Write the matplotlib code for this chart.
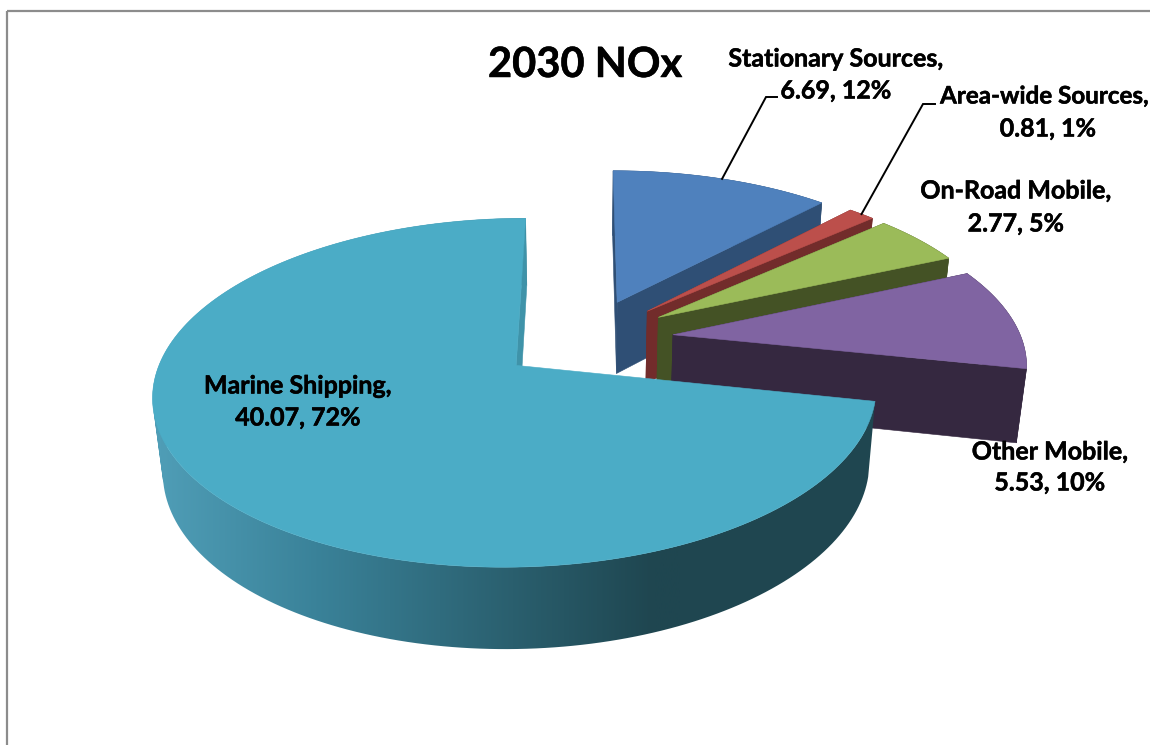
import numpy as np
import matplotlib
matplotlib.use("Agg")
import matplotlib.pyplot as plt
import matplotlib.patheffects as pe
from matplotlib.patches import Polygon, Rectangle, PathPatch
from matplotlib.path import Path
from matplotlib.colors import LinearSegmentedColormap

# Emissions by source category, in pie order (clockwise from 12 o'clock)
categories = ["Stationary Sources", "Area-wide Sources", "On-Road Mobile",
              "Other Mobile", "Marine Shipping"]
values = [6.69, 0.81, 2.77, 5.53, 40.07]
top_colors = ["#4F81BD", "#BC4F4B", "#9BBB59", "#8064A2", "#4BACC6"]
side_colors = ["#2F4F75", "#722C2B", "#445225", "#352840", "#1F4650"]
title = "2030 NOx"

# Label anchors in canvas pixels (centre x of each line, first-line y, second-line y)
label_pos = [(836, 836, 59, 91), (1044, 1048, 96, 129), (1016, 1016, 191, 224),
             (1050, 1050, 452, 483), (298, 298, 386, 418)]
label_sizes = [18, 17.4, 18, 18, 18]

# Projection of the tilted pie onto the canvas
CX, CY = 586.0, 339.0
RX, RY = 348.5, 162.0
PERSP, DEPTH_W, DEPTH_Y = 0.153, 0.023, 74.5
EXPLODE = 0.252


def project(X, Y, Z=0.0):
    w = 1 - PERSP * Y + DEPTH_W * Z
    return CX + RX * X / w, CY + (RY * Y + DEPTH_Y * Z) / w


def slice_xy(theta0, theta1, n=200):
    t = np.linspace(theta0, theta1, n)
    mid = 0.5 * (theta0 + theta1)
    ox, oy = EXPLODE * np.sin(mid), -EXPLODE * np.cos(mid)
    return ox, oy, ox + np.sin(t), oy - np.cos(t)


def strip_path(tx, ty, bx, by):
    """Rim strip as consistently wound quads, so folds at the silhouette stay filled."""
    verts, codes = [], []
    for j in range(len(tx) - 1):
        q = np.array([(tx[j], ty[j]), (tx[j + 1], ty[j + 1]),
                      (bx[j + 1], by[j + 1]), (bx[j], by[j])])
        x, y = q[:, 0], q[:, 1]
        area = np.sum(x * np.roll(y, -1) - np.roll(x, -1) * y)
        if area < 0:
            q = q[::-1]
        verts.extend(list(q) + [q[0]])
        codes.extend([Path.MOVETO, Path.LINETO, Path.LINETO, Path.LINETO, Path.CLOSEPOLY])
    return Path(np.array(verts), codes)


fig = plt.figure(figsize=(11.5, 7.45), dpi=100)
ax = fig.add_axes([0, 0, 1, 1])
plt.rcParams["font.family"] = ["Lato", "DejaVu Sans"]

ax.add_patch(Rectangle((7, 11), 1300, 900, fill=False, ec="#8C8C8C", lw=1.6))

shade = LinearSegmentedColormap.from_list(
    "wall", [(0.0, "#4F9DB6"), (0.3, "#3A8299"), (0.68, "#2A5F6E"),
             (0.95, "#1F4650"), (1.0, "#1F4650")])

total = sum(values)
edges = np.concatenate([[0], np.cumsum(values)]) / total * 2 * np.pi


def add_poly(xy, color, z):
    p = Polygon(xy, closed=True, fc=color, ec=color, lw=0.4, zorder=z)
    ax.add_patch(p)
    return p


for i, (val, ctop, cside) in enumerate(zip(values, top_colors, side_colors)):
    ox, oy, X, Y = slice_xy(edges[i], edges[i + 1])
    z = 2 + i
    tx, ty = project(X, Y)
    bx, by = project(X, Y, 1)
    ax0, ay0 = project(ox, oy)
    bx0, by0 = project(ox, oy, 1)

    if i == len(values) - 1:
        # The large slice carries a horizontal shade along its rim
        mask = PathPatch(strip_path(tx, ty, bx, by), fc="none", ec="none", zorder=z)
        ax.add_patch(mask)
        ramp = np.linspace(0, 1, 256)[None, :]
        img = ax.imshow(ramp, cmap=shade, extent=(160, 680, 700, 200),
                        aspect="auto", zorder=z + 0.1, vmin=0, vmax=1)
        edge_fill = ax.imshow(np.ones((1, 1)), cmap=shade, vmin=0, vmax=1,
                              extent=(680, 900, 700, 200), aspect="auto",
                              zorder=z + 0.1)
        left_fill = ax.imshow(np.zeros((1, 1)), cmap=shade, vmin=0, vmax=1,
                              extent=(130, 160, 700, 200), aspect="auto",
                              zorder=z + 0.1)
        for artist in (img, edge_fill, left_fill):
            artist.set_clip_path(mask)
        add_poly([(ax0, ay0), (tx[-1], ty[-1]), (bx[-1], by[-1]), (bx0, by0)],
                 "#3F93A9", z + 0.2)
    else:
        add_poly(np.r_[np.c_[tx, ty], np.c_[bx, by][::-1]], cside, z)
        # Radial cut faces
        add_poly([(ax0, ay0), (tx[0], ty[0]), (bx[0], by[0]), (bx0, by0)], cside, z)
        add_poly([(ax0, ay0), (tx[-1], ty[-1]), (bx[-1], by[-1]), (bx0, by0)], cside, z)
    # Top face
    add_poly(np.r_[[(ax0, ay0)], np.c_[tx, ty]], ctop, z + 0.5)

# Leader lines for the two labels that sit away from their slices
leaders = [(0, (766, 97), (777, 97)), (1, (923, 104), (935, 104))]
for idx, knee, end in leaders:
    mid = 0.5 * (edges[idx] + edges[idx + 1])
    sx, sy = project(EXPLODE * np.sin(mid) + np.sin(mid),
                     -EXPLODE * np.cos(mid) - np.cos(mid))
    ax.plot([sx, knee[0], end[0]], [sy, knee[1], end[1]], color="black",
            lw=1.4, zorder=10, solid_joinstyle="miter")

heavy = [pe.withStroke(linewidth=0.35, foreground="black")]
for name, val, (x1, x2, y1, y2), size in zip(categories, values, label_pos, label_sizes):
    pct = round(val / total * 100)
    ax.text(x1, y1, f"{name},", ha="center", va="center", fontsize=size,
            fontweight="bold", color="black", zorder=12, path_effects=heavy)
    ax.text(x2, y2, f"{val:.2f}, {pct}%", ha="center", va="center", fontsize=18,
            fontweight="bold", color="black", zorder=12, path_effects=heavy)

ax.text(585, 65, title, ha="center", va="center", fontsize=30,
        fontweight="bold", color="black", zorder=12, path_effects=heavy)

ax.set_xlim(0, 1150)
ax.set_ylim(745, 0)
ax.axis("off")

fig.savefig("out.png", dpi=100, facecolor="white")
